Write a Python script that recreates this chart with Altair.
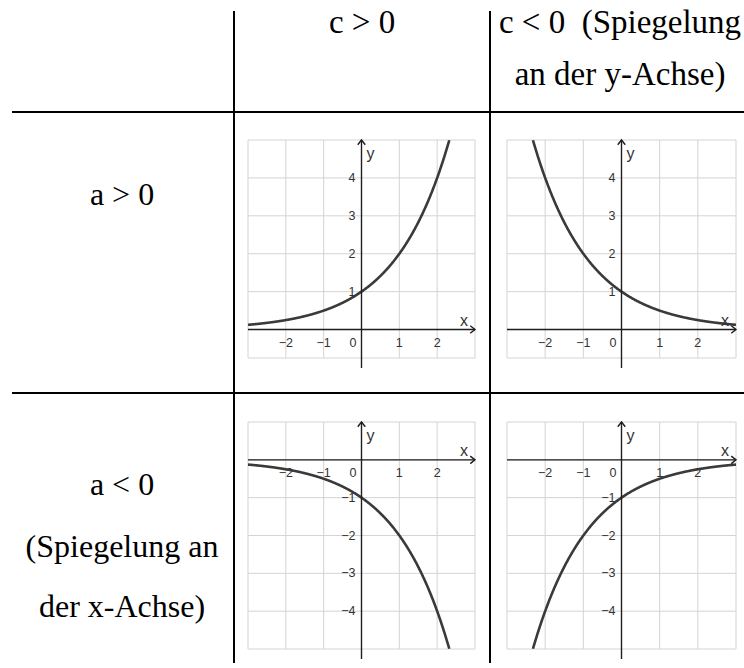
import altair as alt
import pandas as pd

# ---- table texts -------------------------------------------------------
COL_HEADERS = [["c > 0"], ["c < 0\u00a0 (Spiegelung", "an der y-Achse)"]]
ROW_HEADERS = [["a > 0"], ["a < 0", "(Spiegelung an", "der x-Achse)"]]

# ---- function f(x) = a * BASE^(c*x) -----------------------------------
BASE = 2
A_SIGNS = [1, -1]   # one per table row
C_SIGNS = [1, -1]   # one per table column

# ---- coordinate systems ------------------------------------------------
X_DOMAIN = [-3, 3]
Y_DOMAINS = [[-0.75, 5], [-5, 1]]
X_GRID = [-3, -2, -1, 0, 1, 2, 3]
Y_GRIDS = [[-0.75, 0, 1, 2, 3, 4, 5], [-5, -4, -3, -2, -1, 0, 1]]
X_TICKS = [-2, -1, 1, 2]
Y_TICKS = [[1, 2, 3, 4], [-4, -3, -2, -1]]

# ---- layout (pixels) ---------------------------------------------------
PANEL_X = [(248, 475), (507, 736)]
PANEL_Y = [(140, 358), (422, 649)]
COL_TEXT_X = [362, 620]
COL_TEXT_Y = [[33], [33, 85]]
ROW_TEXT_X = 122
ROW_TEXT_Y = [[205], [495, 557, 617]]

GRID = "#d4d4d4"
AXIS = "#1e1e1e"
CURVE = "#3a3a3a"
LABEL = "#333333"
SANS = "Liberation Sans"
SERIF = "Liberation Serif"
TICK_SIZE = 12.5

UP_ARROW = "M -0.75 0.95 L 0 0 L 0.75 0.95"
RIGHT_ARROW = "M -0.95 -0.75 L 0 0 L -0.95 0.75"

one = pd.DataFrame({"k": [0]})


def table_layer():
    layers = []
    # frame lines
    for y in (112, 393):
        layers.append(alt.Chart(one).mark_rule(color="black", strokeWidth=2).encode(
            x=alt.value(12), x2=alt.value(744), y=alt.value(y)))
    for x in (234, 490):
        layers.append(alt.Chart(one).mark_rule(color="black", strokeWidth=2).encode(
            x=alt.value(x), y=alt.value(11), y2=alt.value(663)))
    # column headers
    for lines, cx, ys in zip(COL_HEADERS, COL_TEXT_X, COL_TEXT_Y):
        for line, y in zip(lines, ys):
            layers.append(alt.Chart(one).mark_text(
                font=SERIF, fontSize=33, color="black", align="center", baseline="alphabetic"
            ).encode(x=alt.value(cx), y=alt.value(y), text=alt.value(line)))
    # row headers
    for lines, ys in zip(ROW_HEADERS, ROW_TEXT_Y):
        for line, y in zip(lines, ys):
            layers.append(alt.Chart(one).mark_text(
                font=SERIF, fontSize=32, color="black", align="center", baseline="alphabetic"
            ).encode(x=alt.value(ROW_TEXT_X), y=alt.value(y), text=alt.value(line)))
    return alt.layer(*layers)


def panel(row, col):
    a, c = A_SIGNS[row], C_SIGNS[col]
    ydom = Y_DOMAINS[row]
    x0, x1 = PANEL_X[col]
    y0, y1 = PANEL_Y[row]
    xs = alt.Scale(domain=X_DOMAIN, range=[x0, x1], nice=False, zero=False)
    ys = alt.Scale(domain=ydom, range=[y1, y0], nice=False, zero=False)

    def X(f):
        return alt.X(f, type="quantitative", scale=xs, axis=None)

    def Y(f):
        return alt.Y(f, type="quantitative", scale=ys, axis=None)

    vgrid = alt.Chart(pd.DataFrame({"gx": X_GRID, "lo": ydom[0], "hi": ydom[1]})).mark_rule(
        color=GRID, strokeWidth=1).encode(x=X("gx"), y=Y("lo"), y2="hi")
    hgrid = alt.Chart(pd.DataFrame({"gy": Y_GRIDS[row], "lo": X_DOMAIN[0], "hi": X_DOMAIN[1]})).mark_rule(
        color=GRID, strokeWidth=1).encode(y=Y("gy"), x=X("lo"), x2="hi")

    xaxis = alt.Chart(pd.DataFrame({"lo": [X_DOMAIN[0]], "hi": [X_DOMAIN[1]], "zero": [0]})).mark_rule(
        color=AXIS, strokeWidth=1.4).encode(x=X("lo"), x2="hi", y=Y("zero"))
    yaxis = alt.Chart(pd.DataFrame({"zero": [0], "lo": [ydom[0]], "hi": [ydom[1]]})).mark_rule(
        color=AXIS, strokeWidth=1.4, y2Offset=10).encode(x=X("zero"), y=Y("hi"), y2="lo")
    x_arrow = alt.Chart(pd.DataFrame({"end": [X_DOMAIN[1]], "zero": [0]})).mark_point(
        shape=RIGHT_ARROW, size=100, filled=False, color=AXIS, strokeWidth=1.4, opacity=1
    ).encode(x=X("end"), y=Y("zero"))
    y_arrow = alt.Chart(pd.DataFrame({"zero": [0], "end": [ydom[1]]})).mark_point(
        shape=UP_ARROW, size=100, filled=False, color=AXIS, strokeWidth=1.4, opacity=1
    ).encode(x=X("zero"), y=Y("end"))

    curve = alt.Chart(alt.sequence(X_DOMAIN[0], X_DOMAIN[1] + 0.005, 0.01, as_="x")).transform_calculate(
        y=f"{a} * pow({BASE}, {c} * datum.x)"
    ).transform_filter(
        f"datum.y >= {ydom[0]} && datum.y <= {ydom[1]}"
    ).mark_line(color=CURVE, strokeWidth=2.6).encode(x=X("x"), y=Y("y"))

    xt = alt.Chart(pd.DataFrame({"v": X_TICKS, "zero": 0})).mark_text(
        font=SANS, fontSize=TICK_SIZE, color=LABEL, align="center", baseline="alphabetic", dy=17
    ).encode(x=X("v"), y=Y("zero"), text=alt.Text("v:Q", format="d"))
    origin = alt.Chart(pd.DataFrame({"v": [0], "zero": [0]})).mark_text(
        font=SANS, fontSize=TICK_SIZE, color=LABEL, align="right", baseline="alphabetic", dx=-5, dy=17
    ).encode(x=X("v"), y=Y("zero"), text=alt.Text("v:Q", format="d"))
    yt = alt.Chart(pd.DataFrame({"v": Y_TICKS[row], "zero": 0})).mark_text(
        font=SANS, fontSize=TICK_SIZE, color=LABEL, align="right", baseline="middle", dx=-6
    ).encode(x=X("zero"), y=Y("v"), text=alt.Text("v:Q", format="d"))

    xname = alt.Chart(pd.DataFrame({"end": [X_DOMAIN[1]], "zero": [0], "t": ["x"]})).mark_text(
        font=SANS, fontSize=16, color=LABEL, align="right", baseline="alphabetic", dx=-7, dy=-4
    ).encode(x=X("end"), y=Y("zero"), text="t:N")
    yname = alt.Chart(pd.DataFrame({"zero": [0], "end": [ydom[1]], "t": ["y"]})).mark_text(
        font=SANS, fontSize=16, color=LABEL, align="left", baseline="alphabetic", dx=5, dy=19
    ).encode(x=X("zero"), y=Y("end"), text="t:N")

    return alt.layer(vgrid, hgrid, curve, xaxis, yaxis, x_arrow, y_arrow, xt, origin, yt, xname, yname)


panels = [panel(r, c) for r in range(2) for c in range(2)]

chart = alt.layer(table_layer(), *panels).resolve_scale(
    x="independent", y="independent"
).properties(
    width=744, height=668, padding=0, autosize=alt.AutoSizeParams(type="none")
).configure_view(stroke=None)

chart.save("out.html", embed_options={"renderer": "svg", "actions": False})
